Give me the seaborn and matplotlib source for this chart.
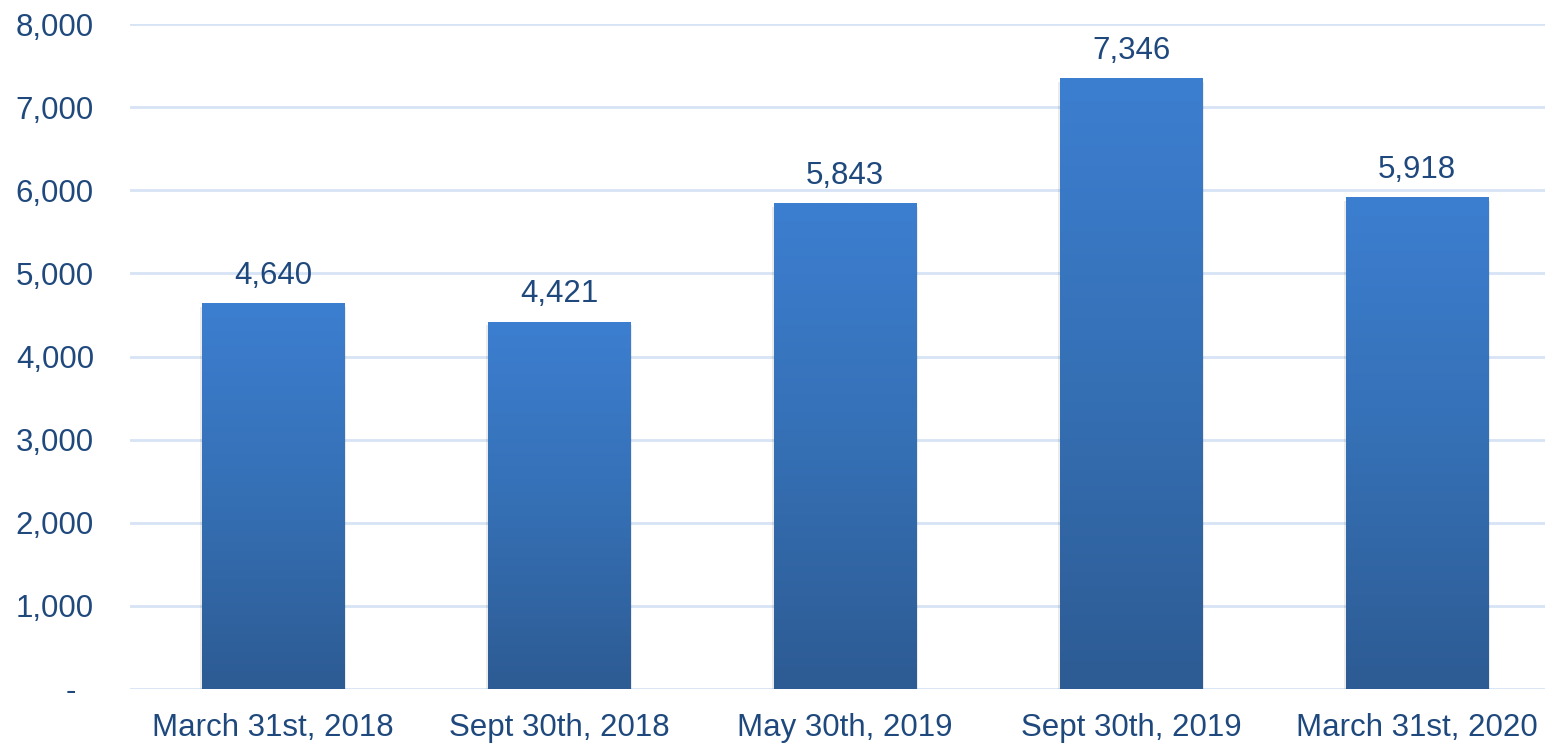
"""Bar chart with gradient-filled bars."""
import matplotlib
matplotlib.use("Agg")
import matplotlib.pyplot as plt
import numpy as np
import pandas as pd
import seaborn as sns
from matplotlib.colors import LinearSegmentedColormap

dates = ["March 31st, 2018", "Sept 30th, 2018", "May 30th, 2019",
         "Sept 30th, 2019", "March 31st, 2020"]
values = [4640, 4421, 5843, 7346, 5918]
y_ticks = [0, 1000, 2000, 3000, 4000, 5000, 6000, 7000, 8000]

TEXT = "#1F497D"
GRID = "#D6E4F5"

sns.set_theme(style="white")
plt.rcParams["font.family"] = ["Liberation Sans", "DejaVu Sans"]

df = pd.DataFrame({"date": dates, "value": values})

fig = plt.figure(figsize=(15.45, 7.43), dpi=100)
ax = fig.add_axes([130 / 1545, 54 / 743, 1430 / 1545, 665 / 743])

sns.barplot(data=df, x="date", y="value", width=0.5, color="#3570B5",
            ax=ax, zorder=2)

ax.set_yticks(y_ticks)
ax.set_yticklabels(["-  "] + [f"{t:,}" for t in y_ticks[1:]])
ax.yaxis.grid(True, color=GRID, linewidth=2, zorder=0)
ax.set_axisbelow(True)
for s in ax.spines.values():
    s.set_visible(False)
ax.tick_params(axis="both", length=0, labelsize=22.5, colors=TEXT)
ax.tick_params(axis="y", pad=26)
ax.tick_params(axis="x", pad=17)
ax.set_xlabel("")
ax.set_ylabel("")

# vertical gradient inside each bar
cmap = LinearSegmentedColormap.from_list("bar", ["#2D5B93", "#3570B5", "#3C7ED0"])
grad = np.linspace(0, 1, 256).reshape(-1, 1)
for bar in ax.patches:
    x0, y0 = bar.get_x(), bar.get_y()
    w, h = bar.get_width(), bar.get_height()
    # soft shadow
    ax.bar(x0 + w / 2, h, width=w + 0.012, bottom=-45, color="#000000",
           alpha=0.08, zorder=1.5, linewidth=0)
    img = ax.imshow(grad, cmap=cmap, origin="lower", aspect="auto",
                    extent=(x0, x0 + w, y0, y0 + h), zorder=2.5)
    img.set_clip_path(bar)
    bar.set_facecolor("none")
    bar.set_edgecolor("none")

ax.set_xlim(-0.5, len(dates) - 0.5)
ax.set_ylim(0, 8000)

for i, v in enumerate(values):
    ax.annotate(f"{v:,}", (i, v), xytext=(0, 9), textcoords="offset points",
                ha="center", va="bottom", fontsize=22.5, color=TEXT, zorder=4)

fig.savefig("out.png", dpi=100)
